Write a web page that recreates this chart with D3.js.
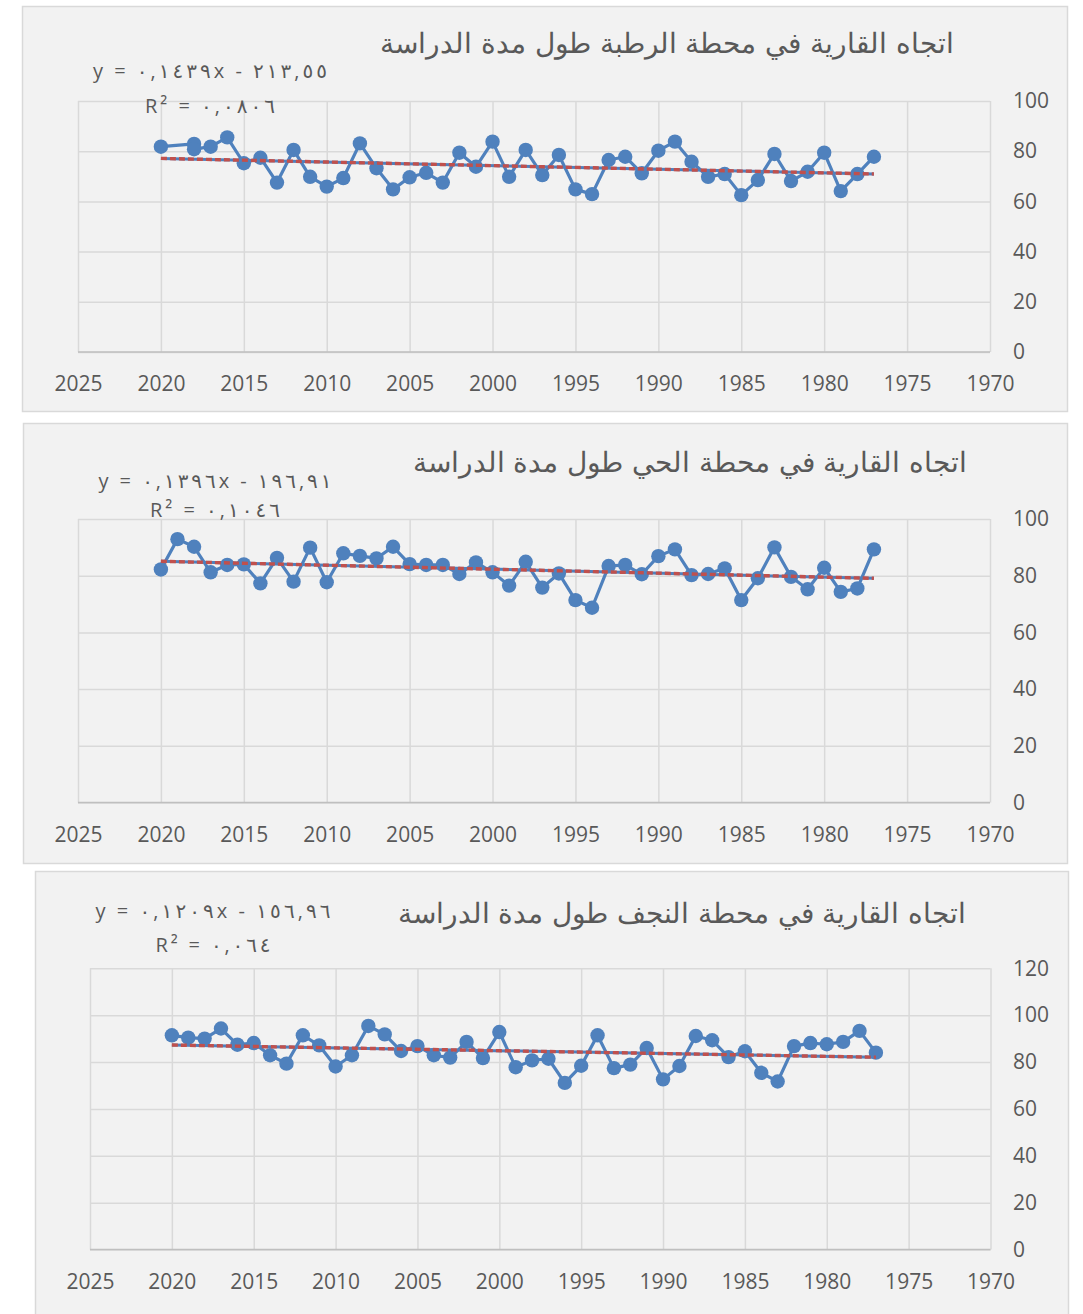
<!DOCTYPE html>
<html><head><meta charset="utf-8">
<script src="https://cdn.jsdelivr.net/npm/d3@7"></script>
<style>
html,body{margin:0;padding:0;background:#fff;}
svg{display:block;}
</style></head>
<body>
<svg id="c" width="1083" height="1314"></svg>
<script>
// ---------- DATA ----------
const titles = [
  "اتجاه القارية في محطة الرطبة طول مدة الدراسة",
  "اتجاه القارية في محطة الحي طول مدة الدراسة",
  "اتجاه القارية في محطة النجف طول مدة الدراسة"
];
const equations = [
  "y = ٠,١٤٣٩x - ٢١٣,٥٥",
  "y = ٠,١٣٩٦x - ١٩٦,٩١",
  "y = ٠,١٢٠٩x - ١٥٦,٩٦"
];
const rSquared = [
  "R² = ٠,٠٨٠٦",
  "R² = ٠,١٠٤٦",
  "R² = ٠,٠٦٤"
];
const trendSlope = [0.1439, 0.1396, 0.1209];
const trendIntercept = [-213.55, -196.91, -156.96];

const xTicks = [2025, 2020, 2015, 2010, 2005, 2000, 1995, 1990, 1985, 1980, 1975, 1970];
const yTicks12 = [0, 20, 40, 60, 80, 100];
const yTicks3 = [0, 20, 40, 60, 80, 100, 120];

const yearsRutba = [2020,2018,2018,2017,2016,2015,2014,2013,2012,2011,2010,2009,2008,2007,2006,2005,2004,2003,2002,2001,2000,1999,1998,1997,1996,1995,1994,1993,1992,1991,1990,1989,1988,1987,1986,1985,1984,1983,1982,1981,1980,1979,1978,1977];
const valuesRutba = [81.8,82.9,80.8,81.8,85.5,75.2,77.4,67.5,80.5,69.8,65.9,69.3,83.1,73.2,64.8,69.6,71.4,67.5,79.4,73.8,83.8,69.8,80.5,70.5,78.5,64.8,62.9,76.5,77.8,71.2,80.2,83.8,75.8,69.8,70.9,62.5,68.5,78.9,68.1,71.8,79.4,64.1,70.9,77.8];

const yearsHai = [2020,2019,2018,2017,2016,2015,2014,2013,2012,2011,2010,2009,2008,2007,2006,2005,2004,2003,2002,2001,2000,1999,1998,1997,1996,1995,1994,1993,1992,1991,1990,1989,1988,1987,1986,1985,1984,1983,1982,1981,1980,1979,1978,1977];
const valuesHai = [82.2,92.9,90.2,81.2,83.8,84.0,77.3,86.3,77.9,89.9,77.7,87.9,87.0,86.1,90.2,84.1,83.8,83.8,80.6,84.7,81.2,76.5,84.9,75.8,80.8,71.4,68.7,83.4,83.8,80.5,86.9,89.3,80.2,80.6,82.6,71.4,79.1,90.0,79.6,75.2,82.8,74.3,75.5,89.3];

const yearsNajaf = [2020,2019,2018,2017,2016,2015,2014,2013,2012,2011,2010,2009,2008,2007,2006,2005,2004,2003,2002,2001,2000,1999,1998,1997,1996,1995,1994,1993,1992,1991,1990,1989,1988,1987,1986,1985,1984,1983,1982,1981,1980,1979,1978,1977];
const valuesNajaf = [91.4,90.4,90.0,94.3,87.4,88.1,82.9,79.3,91.4,87.1,78.1,82.9,95.4,91.8,84.7,86.8,82.9,81.9,88.6,81.7,92.8,77.8,80.7,81.4,71.1,78.4,91.4,77.4,78.9,86.0,72.6,78.3,91.1,89.3,82.1,84.6,75.4,71.7,86.8,88.1,87.6,88.6,93.3,84.0];

// ---------- LAYOUT ----------
const panels = [
  {box:[22,6,1045,405], plot:{x0:78,x1:990,y0:101,y1:352}, yMax:100, yTicks:yTicks12,
   years:yearsRutba, values:valuesRutba, title:{x:667,y:53}, eq:{x:210,y:78,ry:113,w:234,rw:130}, xLabY:391},
  {box:[23,423,1044,440], plot:{x0:78,x1:990,y0:519,y1:802.5}, yMax:100, yTicks:yTicks12,
   years:yearsHai, values:valuesHai, title:{x:690,y:472}, eq:{x:215,y:488,ry:517,w:233,rw:130}, xLabY:842},
  {box:[35,871,1033,450], plot:{x0:90,x1:990.5,y0:968.3,y1:1249.5}, yMax:120, yTicks:yTicks3,
   years:yearsNajaf, values:valuesNajaf, title:{x:682,y:923}, eq:{x:213,y:918,ry:952,w:235,rw:115}, xLabY:1289}
];

const svg = d3.select("#c");
const TXT = "#595959";
const BLUE = "#4f81bd";
const RED = "#c0504d";
const GRID = "#d9d9d9";

panels.forEach((p, i) => {
  const g = svg.append("g");
  g.append("rect").attr("x", p.box[0]+0.5).attr("y", p.box[1]+0.5)
    .attr("width", p.box[2]).attr("height", p.box[3])
    .attr("fill", "#f2f2f2").attr("stroke", "#d9d9d9").attr("stroke-width", 1.5);

  const x = d3.scaleLinear().domain([2025, 1970]).range([p.plot.x0, p.plot.x1]);
  const y = d3.scaleLinear().domain([0, p.yMax]).range([p.plot.y1, p.plot.y0]);

  // vertical gridlines
  const gx = g.append("g").attr("transform", `translate(0,${p.plot.y1})`)
    .call(d3.axisBottom(x).tickValues(xTicks).tickSize(-(p.plot.y1 - p.plot.y0)).tickFormat(d3.format("d")).tickPadding(0));
  gx.select(".domain").remove();
  gx.selectAll(".tick line").attr("stroke", GRID).attr("stroke-width", 1.5);
  gx.selectAll(".tick text").attr("fill", TXT).attr("font-family", "'Open Sans', sans-serif")
    .attr("font-size", 21).attr("dy", null).attr("y", p.xLabY - p.plot.y1);

  // horizontal gridlines + right axis labels
  const gy = g.append("g").attr("transform", `translate(${p.plot.x1},0)`)
    .call(d3.axisRight(y).tickValues(p.yTicks).tickSize(-(p.plot.x1 - p.plot.x0)).tickFormat(d3.format("d")));
  gy.select(".domain").remove();
  gy.selectAll(".tick line").attr("stroke", GRID).attr("stroke-width", 1.5);
  gy.selectAll(".tick text").attr("fill", TXT).attr("font-family", "'Open Sans', sans-serif")
    .attr("font-size", 21).attr("x", 1013 - p.plot.x1).attr("text-anchor", "start");

  // bottom axis line
  g.append("line").attr("x1", p.plot.x0).attr("x2", p.plot.x1)
    .attr("y1", y(0)).attr("y2", y(0)).attr("stroke", "#bfbfbf").attr("stroke-width", 1.5);

  // series
  const pts = p.years.map((yr, k) => [yr, p.values[k]]);
  const line = d3.line().x(d => x(d[0])).y(d => y(d[1]));
  g.append("path").datum(pts).attr("d", line).attr("fill", "none")
    .attr("stroke", BLUE).attr("stroke-width", 3.2).attr("stroke-linejoin", "round");
  g.selectAll("circle.pt").data(pts).enter().append("circle").attr("class", "pt")
    .attr("cx", d => x(d[0])).attr("cy", d => y(d[1])).attr("r", 7.2).attr("fill", BLUE);

  // trend line
  const ext = d3.extent(p.years);
  const tr = [ext[1], ext[0]].map(yr => [yr, trendSlope[i] * yr + trendIntercept[i]]);
  g.append("path").datum(tr).attr("d", line).attr("fill", "none")
    .attr("stroke", BLUE).attr("stroke-width", 3);
  g.append("path").datum(tr).attr("d", line).attr("fill", "none")
    .attr("stroke", RED).attr("stroke-width", 3.4).attr("stroke-dasharray", "6,3");

  // title
  g.append("text").attr("x", p.title.x).attr("y", p.title.y).attr("text-anchor", "middle")
    .attr("direction", "rtl").attr("fill", TXT)
    .attr("font-family", "'DejaVu Sans', sans-serif").attr("font-weight", 300)
    .attr("font-size", 27.7).text(titles[i]);

  // equation
  g.append("text").attr("x", p.eq.x).attr("y", p.eq.y).attr("text-anchor", "middle")
    .attr("fill", TXT).attr("font-family", "'Open Sans', 'DejaVu Sans', sans-serif")
    .attr("font-size", 20).attr("textLength", p.eq.w).attr("lengthAdjust", "spacing")
    .style("direction", "ltr").style("unicode-bidi", "embed").text(equations[i]);
  g.append("text").attr("x", p.eq.x).attr("y", p.eq.ry).attr("text-anchor", "middle")
    .attr("fill", TXT).attr("font-family", "'Open Sans', 'DejaVu Sans', sans-serif")
    .attr("font-size", 20).attr("textLength", p.eq.rw).attr("lengthAdjust", "spacing")
    .style("direction", "ltr").style("unicode-bidi", "embed").text(rSquared[i]);
});
</script>
</body></html>
